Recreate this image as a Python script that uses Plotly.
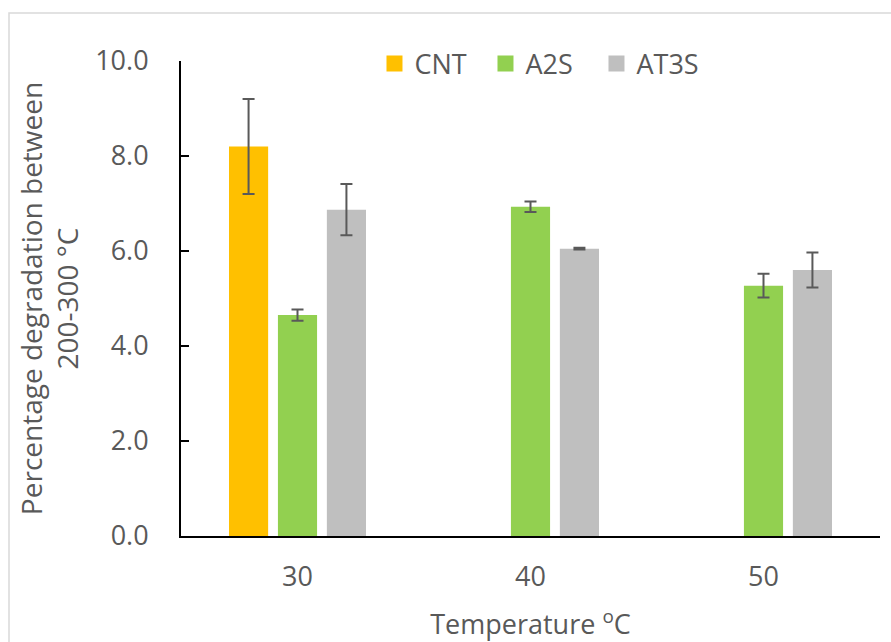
import plotly.graph_objects as go

# Degradation between 200-300 °C by temperature and sample
temperatures = ["30", "40", "50"]
series_names = ["CNT", "A2S", "AT3S"]
cnt_values = [8.2, None, None]
cnt_errors = [1.0, None, None]
a2s_values = [4.65, 6.93, 5.27]
a2s_errors = [0.12, 0.11, 0.25]
at3s_values = [6.87, 6.05, 5.60]
at3s_errors = [0.54, 0.02, 0.37]
y_ticks = [0, 2, 4, 6, 8, 10]
y_tick_labels = ["0.0", "2.0", "4.0", "6.0", "8.0", "10.0"]

colors = ["#FFC000", "#92D050", "#BFBFBF"]
text_grey = "#595959"
font_family = "Open Sans"
fsize = 27

fig = go.Figure()
for name, vals, errs, col in zip(
    series_names,
    [cnt_values, a2s_values, at3s_values],
    [cnt_errors, a2s_errors, at3s_errors],
    colors,
):
    fig.add_trace(
        go.Bar(
            name=name,
            x=temperatures,
            y=vals,
            marker=dict(color=col, line=dict(width=0)),
            showlegend=False,
            error_y=dict(
                type="data",
                array=errs,
                visible=True,
                color=text_grey,
                thickness=2,
                width=6,
            ),
        )
    )

# Legend entries with larger square swatches
for name, col in zip(series_names, colors):
    fig.add_trace(
        go.Scatter(
            name=name,
            x=[None],
            y=[None],
            mode="markers",
            marker=dict(symbol="square", size=19, color=col),
            showlegend=True,
        )
    )

fig.update_layout(
    width=891,
    height=642,
    barmode="group",
    bargap=0.37,
    bargroupgap=0.2,
    plot_bgcolor="white",
    paper_bgcolor="white",
    margin=dict(l=181, r=11, t=61, b=106, autoexpand=False),
    font=dict(family=font_family, color=text_grey, size=fsize),
    legend=dict(
        orientation="h",
        x=0.515,
        xanchor="center",
        y=0.994,
        yanchor="middle",
        font=dict(size=fsize, color=text_grey),
        bgcolor="rgba(0,0,0,0)",
        itemwidth=30,
        entrywidth=66,
        traceorder="normal",
    ),
    showlegend=True,
)

fig.update_yaxes(
    range=[0, 10],
    tickvals=y_ticks,
    ticktext=y_tick_labels,
    showgrid=False,
    zeroline=False,
    showline=True,
    linecolor="black",
    linewidth=2,
    ticks="inside",
    ticklen=8,
    tickwidth=2,
    tickcolor="black",
    ticklabelstandoff=25,
    automargin=False,
    tickfont=dict(size=fsize, color=text_grey),
    title=dict(
        text="Percentage degradation between<br>200-300 °C",
        font=dict(size=28, color=text_grey),
        standoff=8,
    ),
)

fig.update_xaxes(
    showgrid=False,
    showline=True,
    linecolor="black",
    linewidth=2,
    ticks="",
    ticklabelstandoff=16,
    automargin=False,
    tickfont=dict(size=fsize, color=text_grey),
    title=dict(
        text="Temperature <sup>o</sup>C",
        font=dict(size=fsize, color=text_grey),
        standoff=26,
    ),
)

# Light chart-area border
fig.add_shape(
    type="rect",
    xref="paper", yref="paper",
    x0=-172 / 699, x1=1.05,
    y0=-0.5, y1=1 + 48 / 475,
    line=dict(color="#D9D9D9", width=1.5),
    fillcolor="rgba(0,0,0,0)",
    layer="below",
)

fig.write_html("out.html")
